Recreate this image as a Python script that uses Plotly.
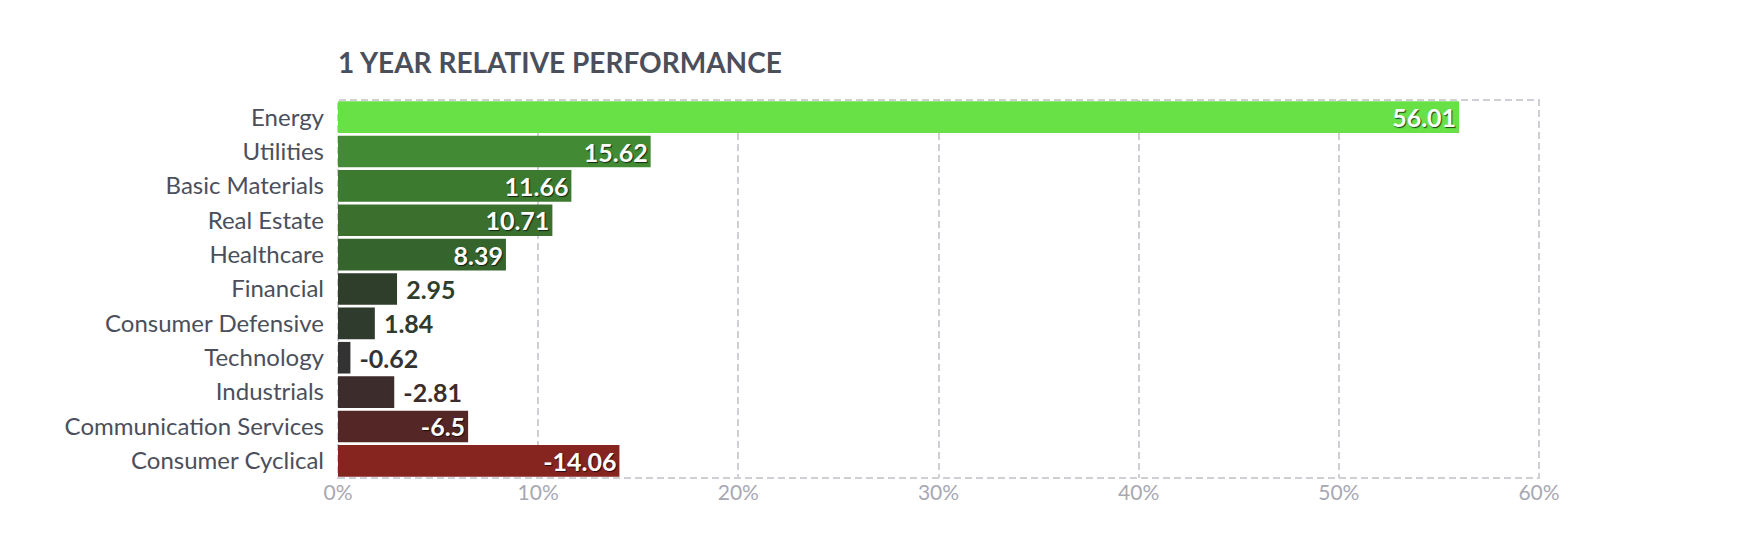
import plotly.graph_objects as go

# sector performance, 1 year (%)
sectors = [
    'Energy', 'Utilities', 'Basic Materials', 'Real Estate', 'Healthcare',
    'Financial', 'Consumer Defensive', 'Technology', 'Industrials',
    'Communication Services', 'Consumer Cyclical',
]
performance = [56.01, 15.62, 11.66, 10.71, 8.39, 2.95, 1.84, -0.62, -2.81, -6.5, -14.06]
tick_vals = [0, 10, 20, 30, 40, 50, 60]
tick_text = ['0%', '10%', '20%', '30%', '40%', '50%', '60%']

bar_colors = [
    '#67e145', '#428b34', '#3c7a30', '#3a6f2e', '#36642d',
    '#2f3d2b', '#2e3b2d', '#333333', '#3d2c2c', '#552626', '#862420',
]

bar_len = [abs(v) for v in performance]
labels = [f'{v:g}' for v in performance]
inside = [abs(v) >= 6 for v in performance]
positions = ['inside' if i else 'outside' for i in inside]
templates = ['%{text}' if i else ' %{text}' for i in inside]

fig = go.Figure(go.Bar(
    y=sectors,
    x=bar_len,
    orientation='h',
    marker=dict(color=bar_colors, line=dict(width=0)),
    text=labels,
    texttemplate=templates,
    textposition=positions,
    insidetextanchor='end',
    constraintext='none',
    insidetextfont=dict(family='Lato', size=25, color='white', weight='bold',
                        shadow='1px 1px 1px rgba(0,0,0,0.7)'),
    outsidetextfont=dict(family='Lato', size=25, color=bar_colors, weight='bold'),
    cliponaxis=False,
    hoverinfo='skip',
))

fig.update_layout(
    width=1740, height=546,
    margin=dict(l=330, r=209, t=92, b=76),
    plot_bgcolor='white', paper_bgcolor='white',
    bargap=0.08,
    showlegend=False,
    title=dict(
        text='<b>1 YEAR RELATIVE PERFORMANCE</b>',
        font=dict(family='Lato', size=28, color='#4b4f5c'),
        x=0, xref='paper', xanchor='left',
        y=1 - 55 / 546, yref='container', yanchor='middle',
    ),
    xaxis=dict(
        range=[0, 60],
        tickvals=tick_vals, ticktext=tick_text,
        tickfont=dict(family='Lato', size=21, color='#a7a8b1'),
        showgrid=True, gridcolor='#cfd0d6', gridwidth=2, griddash='7px,4px',
        zeroline=False, showline=False, ticks='',
    ),
    yaxis=dict(
        autorange='reversed',
        tickfont=dict(family='Lato', size=24, color='#4b4f5c'),
        showgrid=False, zeroline=False, showline=False, ticks='',
        ticklabelstandoff=13,
    ),
    shapes=[dict(
        type='rect', xref='paper', yref='paper', x0=0, x1=1, y0=0, y1=1,
        line=dict(color='#cfd0d6', width=2, dash='7px,4px'), layer='below',
    )],
)

fig.write_html('out.html')
